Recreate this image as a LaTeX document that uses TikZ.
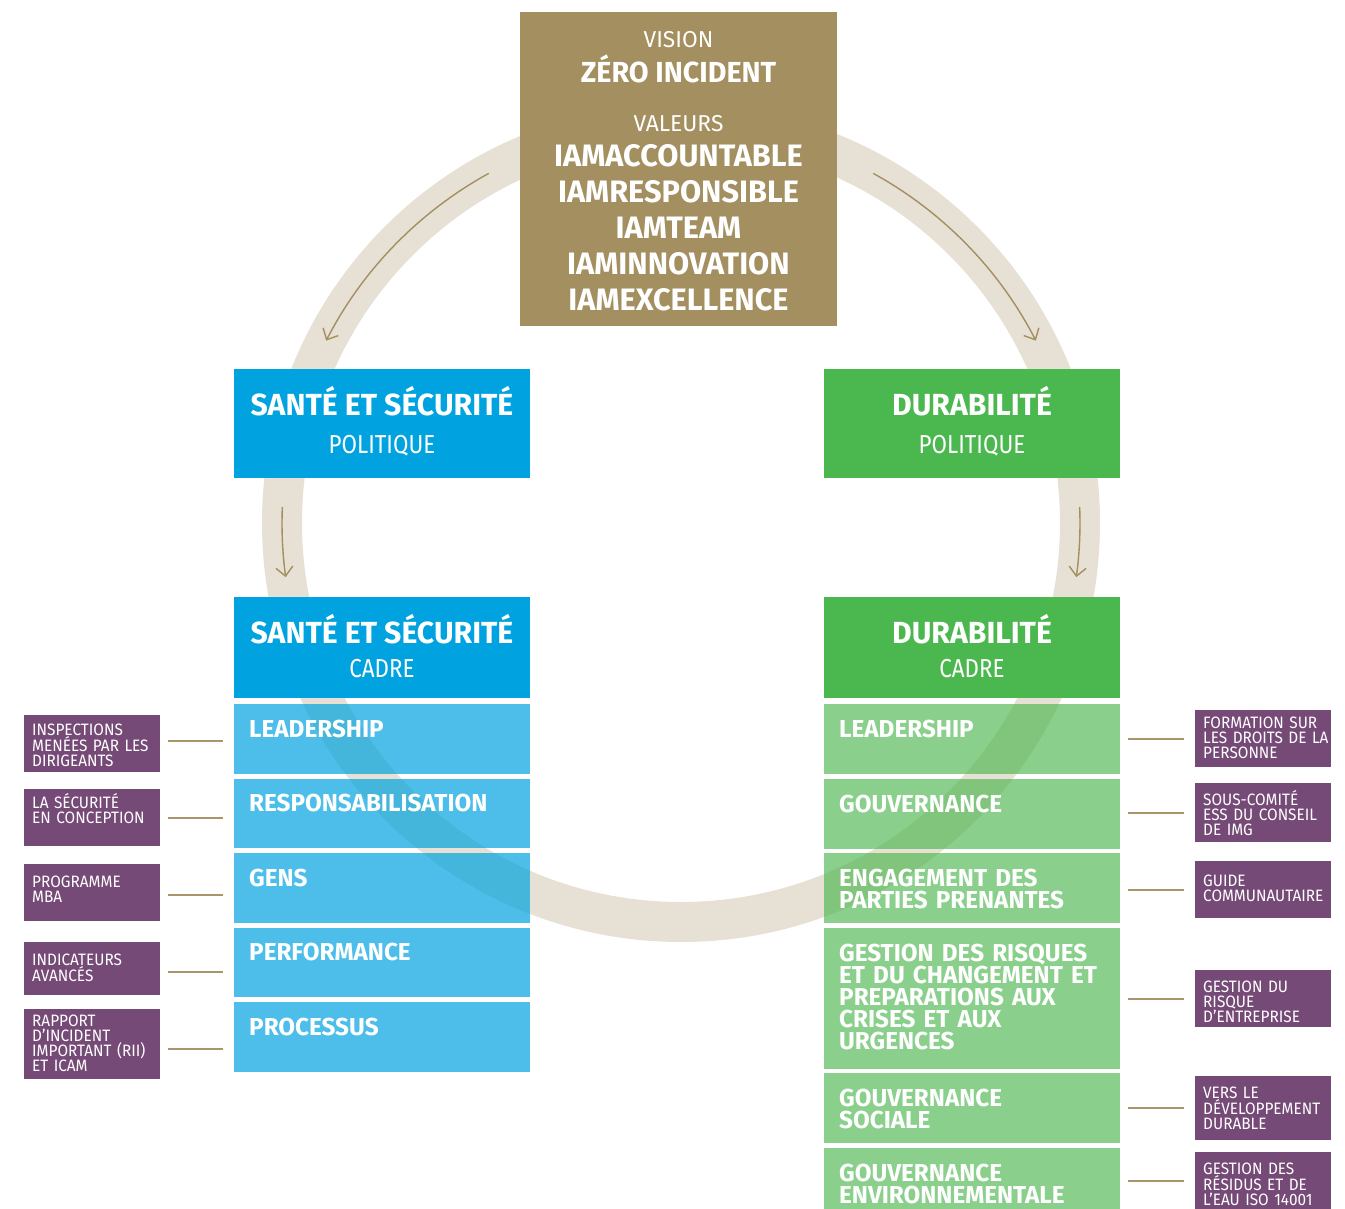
\documentclass[tikz,border=0pt]{standalone}
\usepackage{fontspec}
\setmainfont{Fira Sans}[FakeStretch=0.99]
\newfontfamily\subf{Fira Sans}[FakeStretch=0.86]
\newfontfamily\purpf{Fira Sans}[FakeStretch=0.93]
\usetikzlibrary{arrows.meta,calc}
\definecolor{goldc}{HTML}{A38F5F}
\definecolor{ringc}{HTML}{E7E0D4}
\definecolor{blueH}{HTML}{00A3DF}
\definecolor{greenH}{HTML}{4BB74F}
\definecolor{purp}{HTML}{764A77}
\definecolor{linec}{HTML}{A8956A}
\begin{document}
\begin{tikzpicture}[x=1pt,y=-1pt,
  box/.style={rectangle,inner sep=0pt,anchor=north west,draw=none},
  bluebox/.style={box,fill=blueH,minimum width=296pt},
  lbluebox/.style={box,fill=blueH,fill opacity=0.70,minimum width=296pt,minimum height=69.5pt},
  greenbox/.style={box,fill=greenH,minimum width=296pt},
  lgreenbox/.style={box,fill=greenH,fill opacity=0.65,minimum width=296pt},
  purpbox/.style={box,fill=purp,minimum width=136pt},
  titletxt/.style={anchor=base,inner sep=0pt,text=white,font=\bfseries\fontsize{30.5}{31}\selectfont},
  subtxt/.style={anchor=base,inner sep=0pt,text=white,font=\subf\fontsize{26}{26}\selectfont},
  vtxt/.style={anchor=base,inner sep=0pt,text=white,font=\fontsize{23}{23}\selectfont},
  valtxt/.style={anchor=base,inner sep=0pt,text=white,font=\bfseries\fontsize{31}{31}\selectfont},
  labtxt/.style={anchor=base west,inner sep=0pt,text=white,text width=290pt,align=left,font=\bfseries\fontsize{24.5}{22}\selectfont},
  ptxt/.style={anchor=base west,inner sep=0pt,text=white,text width=200pt,align=left,font=\purpf\fontsize{16.5}{15}\selectfont},
  conn/.style={draw=linec,line width=1.6pt},
  arr/.style={draw=goldc,line width=1.4pt,-{Straight Barb[length=9pt,width=17pt,line width=1.4pt]}}
]
\useasboundingbox (0,0) rectangle (1345,1209);
% ring
\coordinate (cc) at (681,523);
\draw[ringc,line width=40pt] (cc) circle[radius=399];
% arrows along ring
\coordinate (a1) at ($(cc)+(-118.8:399)$);
\coordinate (a2) at ($(cc)+(-61.2:399)$);
\coordinate (a3) at ($(cc)+(-177.7:399)$);
\coordinate (a4) at ($(cc)+(-2.3:399)$);
\draw[arr] (a1) arc[start angle=-118.8,end angle=-152.8,radius=399];
\draw[arr] (a2) arc[start angle=-61.2,end angle=-27.2,radius=399];
\draw[arr] (a3) arc[start angle=-177.7,end angle=-187.8,radius=399];
\draw[arr] (a4) arc[start angle=-2.3,end angle=7.8,radius=399];
% gold box
\node[box,fill=goldc,minimum width=317pt,minimum height=314pt] (gold) at (520,12) {};
\node[vtxt] (vis) at (678.5,48) {VISION};
\node[valtxt,font=\bfseries\fontsize{29}{29}\selectfont] (zero) at (678.5,83) {ZÉRO INCIDENT};
\node[vtxt] (val) at (678.5,132) {VALEURS};
\node[valtxt] (v1) at (678.5,167) {IAMACCOUNTABLE};
\node[valtxt] (v2) at (678.5,203) {IAMRESPONSIBLE};
\node[valtxt] (v3) at (678.5,239) {IAMTEAM};
\node[valtxt] (v4) at (678.5,275) {IAMINNOVATION};
\node[valtxt] (v5) at (678.5,310) {IAMEXCELLENCE};
% politique boxes
\node[bluebox,minimum height=109pt] (sspol) at (234,369) {};
\node[titletxt] (sspolt) at (382,415) {SANTÉ ET SÉCURITÉ};
\node[subtxt] (sspols) at (382,453) {POLITIQUE};
\node[greenbox,minimum height=109pt] (dpol) at (824,369) {};
\node[titletxt] (dpolt) at (972,415) {DURABILITÉ};
\node[subtxt] (dpols) at (972,453) {POLITIQUE};
% cadre headers
\node[bluebox,minimum height=101pt] (sscad) at (234,597) {};
\node[titletxt] (sscadt) at (382,643) {SANTÉ ET SÉCURITÉ};
\node[subtxt] (sscads) at (382,677) {CADRE};
\node[greenbox,minimum height=101pt] (dcad) at (824,597) {};
\node[titletxt] (dcadt) at (972,643) {DURABILITÉ};
\node[subtxt] (dcads) at (972,677) {CADRE};
% blue items
\node[lbluebox] (b1) at (234,704) {};
\node[lbluebox] (b2) at (234,778.5) {};
\node[lbluebox] (b3) at (234,853) {};
\node[lbluebox] (b4) at (234,927.5) {};
\node[lbluebox] (b5) at (234,1002) {};
\node[labtxt] (b1t) at (249,737) {LEADERSHIP};
\node[labtxt] (b2t) at (249,811.5) {RESPONSABILISATION};
\node[labtxt] (b3t) at (249,886) {GENS};
\node[labtxt] (b4t) at (249,960.5) {PERFORMANCE};
\node[labtxt] (b5t) at (249,1035) {PROCESSUS};
% green items
\node[lgreenbox,minimum height=69.5pt] (g1) at (824,704) {};
\node[lgreenbox,minimum height=69.5pt] (g2) at (824,779) {};
\node[lgreenbox,minimum height=69.5pt] (g3) at (824,853) {};
\node[lgreenbox,minimum height=140.5pt] (g4) at (824,928) {};
\node[lgreenbox,minimum height=69.5pt] (g5) at (824,1073) {};
\node[lgreenbox,minimum height=61pt] (g6) at (824,1148) {};
\node[labtxt] (g1t) at (839,737) {LEADERSHIP};
\node[labtxt] (g2t) at (839,812) {GOUVERNANCE};
\node[labtxt] (g3t) at (839,886) {ENGAGEMENT DES\\PARTIES PRENANTES};
\node[labtxt] (g4t) at (839,961) {GESTION DES RISQUES\\ET DU CHANGEMENT ET\\PREPARATIONS AUX\\CRISES ET AUX\\URGENCES};
\node[labtxt] (g5t) at (839,1106) {GOUVERNANCE\\SOCIALE};
\node[labtxt] (g6t) at (839,1181) {GOUVERNANCE\\ENVIRONNEMENTALE};
% left purple
\node[purpbox,minimum height=57pt] (pl1) at (24,715) {};
\node[purpbox,minimum height=57pt] (pl2) at (24,789) {};
\node[purpbox,minimum height=57pt] (pl3) at (24,864) {};
\node[purpbox,minimum height=53pt] (pl4) at (24,942) {};
\node[purpbox,minimum height=70pt] (pl5) at (24,1009) {};
\node[ptxt] (pl1t) at (32,735.5) {INSPECTIONS\\MENÉES PAR LES\\DIRIGEANTS};
\node[ptxt] (pl2t) at (32,808.5) {LA SÉCURITÉ\\EN CONCEPTION};
\node[ptxt] (pl3t) at (32,887) {PROGRAMME\\MBA};
\node[ptxt] (pl4t) at (32,965.5) {INDICATEURS\\AVANCÉS};
\node[ptxt] (pl5t) at (32,1026.5) {RAPPORT\\D’INCIDENT\\IMPORTANT (RII)\\ET ICAM};
% right purple
\node[purpbox,minimum height=57pt] (pr1) at (1195,710) {};
\node[purpbox,minimum height=59pt] (pr2) at (1195,783) {};
\node[purpbox,minimum height=57pt] (pr3) at (1195,861) {};
\node[purpbox,minimum height=57pt] (pr4) at (1195,970) {};
\node[purpbox,minimum height=64pt] (pr5) at (1195,1076) {};
\node[purpbox,minimum height=57pt] (pr6) at (1195,1152) {};
\node[ptxt] (pr1t) at (1203,728) {FORMATION SUR\\LES DROITS DE LA\\PERSONNE};
\node[ptxt] (pr2t) at (1203,805) {SOUS-COMITÉ\\ESS DU CONSEIL\\DE IMG};
\node[ptxt] (pr3t) at (1203,886.5) {GUIDE\\COMMUNAUTAIRE};
\node[ptxt] (pr4t) at (1203,992.5) {GESTION DU\\RISQUE\\D’ENTREPRISE};
\node[ptxt] (pr5t) at (1203,1098) {VERS LE\\DÉVELOPPEMENT\\DURABLE};
\node[ptxt] (pr6t) at (1203,1174.5) {GESTION DES\\RÉSIDUS ET DE\\L’EAU ISO 14001};
% connectors left
\draw[conn] ([xshift=8pt,yshift=2.5pt]pl1.east) -- ([xshift=-11pt,yshift=2.5pt]pl1.east -| b1.west);
\draw[conn] ([xshift=8pt]pl2.east) -- ([xshift=-11pt]pl2.east -| b2.west);
\draw[conn] ([xshift=8pt,yshift=-2.5pt]pl3.east) -- ([xshift=-11pt,yshift=-2.5pt]pl3.east -| b3.west);
\draw[conn] ([xshift=8pt,yshift=-3.5pt]pl4.east) -- ([xshift=-11pt,yshift=-3.5pt]pl4.east -| b4.west);
\draw[conn] ([xshift=8pt,yshift=-5pt]pl5.east) -- ([xshift=-11pt,yshift=-5pt]pl5.east -| b5.west);
% connectors right
\draw[conn] ([xshift=-11pt]pr1.west) -- ([xshift=8pt]pr1.west -| g1.east);
\draw[conn] ([xshift=-11pt]pr2.west) -- ([xshift=8pt]pr2.west -| g2.east);
\draw[conn] ([xshift=-11pt]pr3.west) -- ([xshift=8pt]pr3.west -| g3.east);
\draw[conn] ([xshift=-11pt]pr4.west) -- ([xshift=8pt]pr4.west -| g4.east);
\draw[conn] ([xshift=-11pt]pr5.west) -- ([xshift=8pt]pr5.west -| g5.east);
\draw[conn] ([xshift=-11pt]pr6.west) -- ([xshift=8pt]pr6.west -| g6.east);
\end{tikzpicture}
\end{document}
